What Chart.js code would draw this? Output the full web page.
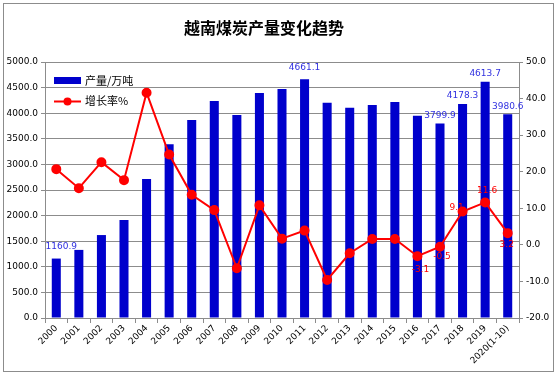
<!DOCTYPE html>
<html>
<head>
<meta charset="utf-8">
<script src="https://cdn.jsdelivr.net/npm/chart.js@4/dist/chart.umd.min.js"></script>
<style>
  html, body { margin: 0; padding: 0; background: #fff; }
  #wrap { width: 558px; height: 376px; }
</style>
</head>
<body>
<div id="wrap"><canvas id="coalChart" width="558" height="376"></canvas></div>
<script>
// 越南煤炭产量 数据
const years = ['2000','2001','2002','2003','2004','2005','2006','2007','2008','2009','2010',
               '2011','2012','2013','2014','2015','2016','2017','2018','2019','2020(1-10)'];
const production = [1160.9, 1330, 1620, 1915, 2715, 3392, 3867, 4238, 3965, 4395, 4473,
                    4661.1, 4205, 4108, 4160, 4219, 3952, 3799.9, 4178.3, 4613.7, 3980.6];
const growth = [20.7, 15.5, 22.6, 17.7, 41.6, 24.7, 13.7, 9.5, -6.4, 10.8, 1.7,
                3.9, -9.6, -2.3, 1.6, 1.6, -3.1, -0.5, 9.1, 11.6, 3.2];
const leftTicks = { min: 0, max: 5000, step: 500 };
const rightTicks = { min: -20, max: 50, step: 10 };
// 哪些点要显示数值
const barLabelIdx = [0, 11, 17, 18, 19, 20];
const lineLabelIdx = [16, 17, 18, 19, 20];

const BLUE = '#0000cc', RED = '#ff0000', GRID = '#8c8c8c';
const tickFont = { family: "'DejaVu Sans', sans-serif", size: 9 };
const cjk = "'Noto Sans CJK SC', sans-serif";

// 标题、图例、数值标签、外框
const decoPlugin = {
  id: 'deco',
  afterDatasetsDraw(chart) {
    const ctx = chart.ctx;
    const barMeta = chart.getDatasetMeta(0), lineMeta = chart.getDatasetMeta(1);
    ctx.save();
    ctx.font = "9px 'DejaVu Sans', sans-serif";
    ctx.textAlign = 'center'; ctx.textBaseline = 'middle';
    // 柱子数值
    ctx.fillStyle = '#3030e0';
    barLabelIdx.forEach(i => {
      const el = barMeta.data[i];
      const dy = (i === 0 || i === 11) ? -12 : -8;
      const dx = i === 0 ? 5 : 0;
      ctx.fillText(production[i].toFixed(1), el.x + dx, el.y + dy);
    });
    // 增长率数值
    ctx.fillStyle = RED;
    const off = { 16: [3, 13], 17: [2, 10], 18: [-6, -4], 19: [2, -12], 20: [-1, 12] };
    lineLabelIdx.forEach(i => {
      const el = lineMeta.data[i];
      const o = off[i] || [0, -10];
      ctx.fillText(growth[i].toFixed(1), el.x + o[0], el.y + o[1]);
    });
    ctx.restore();
  },
  afterDraw(chart) {
    const ctx = chart.ctx;
    ctx.save();
    // 外框
    ctx.strokeStyle = '#8c8c8c'; ctx.lineWidth = 1;
    ctx.strokeRect(3.5, 3.5, 550, 368);
    // 标题
    ctx.fillStyle = '#000';
    ctx.font = `bold 16px ${cjk}`;
    ctx.textAlign = 'center'; ctx.textBaseline = 'middle';
    ctx.fillText('越南煤炭产量变化趋势', 264, 28);
    // 图例
    ctx.font = `11px ${cjk}`;
    ctx.textAlign = 'left';
    ctx.fillStyle = BLUE;
    ctx.fillRect(54, 77, 27, 7);
    ctx.fillStyle = '#000';
    ctx.fillText('产量/万吨', 85, 81);
    ctx.strokeStyle = RED; ctx.lineWidth = 2;
    ctx.beginPath(); ctx.moveTo(54, 101.5); ctx.lineTo(81, 101.5); ctx.stroke();
    ctx.fillStyle = RED;
    ctx.beginPath(); ctx.arc(67.5, 101.5, 4, 0, Math.PI * 2); ctx.fill();
    ctx.fillStyle = '#000';
    ctx.fillText('增长率%', 85, 101);
    ctx.restore();
  }
};

new Chart(document.getElementById('coalChart').getContext('2d'), {
  type: 'bar',
  data: {
    labels: years,
    datasets: [
      { type: 'bar', label: '产量/万吨', data: production, yAxisID: 'y',
        backgroundColor: BLUE, barPercentage: 0.4, categoryPercentage: 1, order: 2 },
      { type: 'line', label: '增长率%', data: growth, yAxisID: 'y1',
        borderColor: RED, borderWidth: 2, pointRadius: 4, pointBackgroundColor: RED,
        pointBorderColor: RED, tension: 0, order: 1 }
    ]
  },
  options: {
    responsive: false,
    animation: false,
    devicePixelRatio: 1,
    layout: { padding: { top: 62, left: 0, right: 0, bottom: 0 } },
    plugins: { legend: { display: false }, title: { display: false }, tooltip: { enabled: false } },
    scales: {
      x: {
        grid: { display: true, drawOnChartArea: false, color: GRID, tickLength: 5, offset: true },
        border: { color: GRID },
        ticks: { color: '#000', font: tickFont, autoSkip: false, minRotation: 45, maxRotation: 45, padding: 0 },
        afterFit: s => { s.height = 58; }
      },
      y: {
        position: 'left', min: leftTicks.min, max: leftTicks.max,
        grid: { color: GRID, tickLength: 4 },
        border: { color: GRID },
        ticks: { stepSize: leftTicks.step, color: '#000', font: tickFont, padding: 3,
                 callback: v => v.toFixed(1) },
        afterFit: s => { s.width = 45; }
      },
      y1: {
        position: 'right', min: rightTicks.min, max: rightTicks.max,
        grid: { drawOnChartArea: false, color: GRID, tickLength: 4 },
        border: { color: GRID },
        ticks: { stepSize: rightTicks.step, color: '#000', font: tickFont, padding: 3,
                 callback: v => v.toFixed(1) },
        afterFit: s => { s.width = 39; }
      }
    }
  },
  plugins: [decoPlugin]
});
</script>
</body>
</html>
